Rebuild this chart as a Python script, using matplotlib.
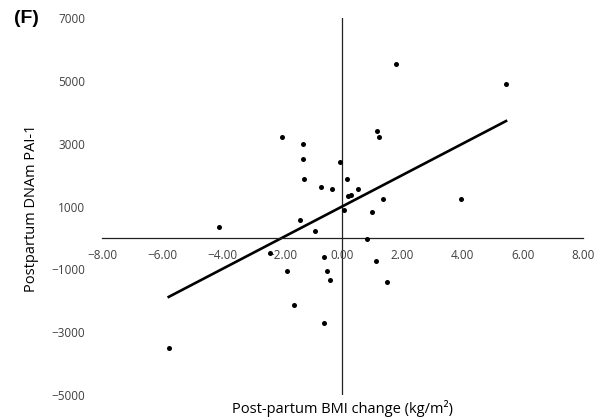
import numpy as np
import matplotlib.pyplot as plt

# BMI change (kg/m2) vs DNAm PAI-1
bmi_change = [1.77, -2.00, -1.31, -1.31, -1.28, -0.73, -0.35, -0.07, 0.15,
              1.15, 1.23, 0.19, 0.28, 0.53, 1.36, 0.04, 0.99, -1.41, -0.91,
              -4.11, 0.83, -2.42, -1.86, -1.62, -0.62, -0.52, -0.41, -0.62,
              1.13, 1.47, 5.44, 3.93, -5.78]
pai1 = [5546, 3228, 2994, 2518, 1873, 1619, 1556, 2403, 1873,
        3419, 3228, 1324, 1376, 1556, 1249, 899, 825, 581, 233,
        360, -30, -466, -1037, -2137, -593, -1037, -1344, -2720,
        -720, -1397, 4911, 1228, -3514]

x_ticks = [-8, -6, -4, -2, 0, 2, 4, 6, 8]
y_ticks = [-5000, -3000, -1000, 1000, 3000, 5000, 7000]

x = np.array(bmi_change)
y = np.array(pai1)
slope, intercept = np.polyfit(x, y, 1)
xl = np.array([x.min(), x.max()])

plt.rcParams['font.family'] = ['Open Sans', 'DejaVu Sans']

fig = plt.figure(figsize=(6.07, 4.2), dpi=100)
ax = fig.add_axes([0.168, 0.0595, 0.7924, 0.8976])

ax.scatter(x, y, s=13, color='black', zorder=3, linewidths=0)
ax.plot(xl, slope * xl + intercept, color='black', lw=1.9, zorder=2)

ax.set_xlim(-8, 8)
ax.set_ylim(-5000, 7000)
ax.axvline(0, color='#222222', lw=0.9, zorder=1)

for s in ['top', 'right', 'left']:
    ax.spines[s].set_visible(False)
ax.spines['bottom'].set_position(('data', 0))
ax.spines['bottom'].set_color('#222222')
ax.spines['bottom'].set_linewidth(0.9)


def fmt(v, pat):
    return (pat % v).replace('-', '\u2212')


ax.set_xticks(x_ticks)
ax.set_xticklabels([fmt(v, '%.2f') for v in x_ticks])
ax.set_yticks(y_ticks)
ax.set_yticklabels([fmt(v, '%d') for v in y_ticks])
ax.tick_params(axis='both', length=0, labelsize=8.5, labelcolor='#404040')
ax.tick_params(axis='x', pad=8)
ax.tick_params(axis='y', pad=12)

fig.text(0.565, 0.028, 'Post-partum BMI change (kg/m\u00b2)', ha='center',
         va='center', fontsize=10.5, color='black')
fig.text(0.052, 0.505, 'Postpartum DNAm PAI-1', ha='center', va='center',
         rotation=90, fontsize=10.5, color='black')
fig.text(0.043, 0.955, '(F)', ha='center', va='center', fontsize=14,
         fontweight='bold', family='Liberation Sans')

fig.savefig('out.png', dpi=100)
